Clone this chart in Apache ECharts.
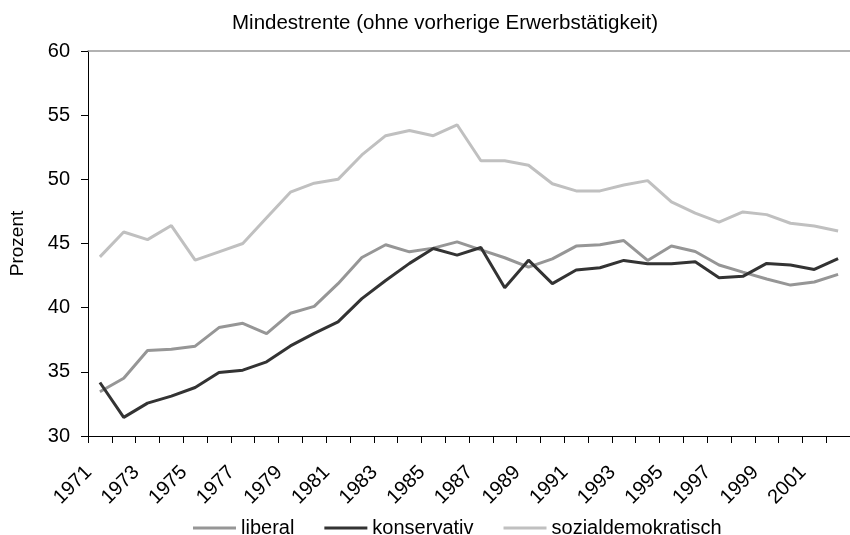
<!DOCTYPE html>
<html>
<head>
<meta charset="utf-8">
<script src="https://cdn.jsdelivr.net/npm/echarts@6/dist/echarts.min.js"></script>
<style>html,body{margin:0;padding:0;background:#fff}#c{width:850px;height:535px}</style>
</head>
<body>
<div id="c"></div>
<script>
var years = ['1971','1972','1973','1974','1975','1976','1977','1978','1979','1980','1981','1982','1983','1984','1985','1986','1987','1988','1989','1990','1991','1992','1993','1994','1995','1996','1997','1998','1999','2000','2001','2002'];
var liberal = [33.45,34.5,36.66,36.76,37.0,38.45,38.78,37.98,39.56,40.1,41.87,43.91,44.9,44.35,44.64,45.13,44.5,43.89,43.16,43.8,44.8,44.9,45.23,43.68,44.8,44.38,43.32,42.77,42.23,41.76,42.0,42.59];
var konservativ = [34.17,31.45,32.56,33.11,33.78,34.95,35.13,35.78,37.02,38.0,38.89,40.7,42.12,43.45,44.61,44.09,44.69,41.55,43.7,41.87,42.93,43.11,43.68,43.42,43.42,43.58,42.33,42.44,43.45,43.32,42.98,43.83];
var sozialdemokratisch = [43.96,45.9,45.3,46.4,43.7,44.35,45.0,47.0,49.0,49.7,50.0,51.9,53.4,53.8,53.4,54.25,51.45,51.45,51.1,49.66,49.1,49.1,49.56,49.9,48.24,47.36,46.66,47.46,47.25,46.58,46.37,45.98];
var yTicks = {min: 30, max: 60, interval: 5};

var font = 'Liberation Sans, Arial, sans-serif';
var chart = echarts.init(document.getElementById('c'), null, {renderer: 'canvas'});
function ser(name, data, color) {
  return {name: name, type: 'line', data: data, symbol: 'none', showSymbol: false,
    lineStyle: {color: color, width: 3}, itemStyle: {color: color}, animation: false, xAxisIndex: 0};
}
chart.setOption({
  animation: false,
  backgroundColor: '#fff',
  title: {text: 'Mindestrente (ohne vorherige Erwerbstätigkeit)', left: 227, top: 8,
    textStyle: {fontFamily: font, fontSize: 20.5, fontWeight: 'normal', color: '#000'}},
  grid: {left: 88, top: 51, bottom: 99, right: -10, containLabel: false},
  legend: {left: 188, top: 513, itemWidth: 43, itemHeight: 3, itemGap: 30,
    icon: 'rect',
    textStyle: {fontFamily: font, fontSize: 20, color: '#000'},
    data: ['liberal','konservativ','sozialdemokratisch']},
  xAxis: [{
    type: 'category', data: years, boundaryGap: true, position: 'bottom',
    axisLine: {lineStyle: {color: '#000', width: 1}},
    axisTick: {show: true, interval: 0, length: 7, lineStyle: {color: '#000'}},
    axisLabel: {interval: 1, rotate: 45, margin: 22, padding: [0, 16, 0, 0],
      fontFamily: font, fontSize: 20, color: '#000'},
    splitLine: {show: false}
  }, {
    type: 'category', data: years, boundaryGap: true, position: 'top',
    axisLine: {lineStyle: {color: '#999', width: 1.5}},
    axisTick: {show: false}, axisLabel: {show: false}, splitLine: {show: false}
  }],
  yAxis: {
    type: 'value', min: yTicks.min, max: yTicks.max, interval: yTicks.interval,
    name: 'Prozent', nameLocation: 'middle', nameGap: 61, nameRotate: 90,
    nameTextStyle: {fontFamily: font, fontSize: 19, color: '#000'},
    axisLine: {show: true, lineStyle: {color: '#000', width: 1}},
    axisTick: {show: true, length: 7, lineStyle: {color: '#000'}},
    axisLabel: {margin: 18, fontFamily: font, fontSize: 20, color: '#000'},
    splitLine: {show: false}
  },
  series: [
    ser('liberal', liberal, '#969696'),
    ser('konservativ', konservativ, '#333333'),
    ser('sozialdemokratisch', sozialdemokratisch, '#c0c0c0')
  ]
});
</script>
</body>
</html>
